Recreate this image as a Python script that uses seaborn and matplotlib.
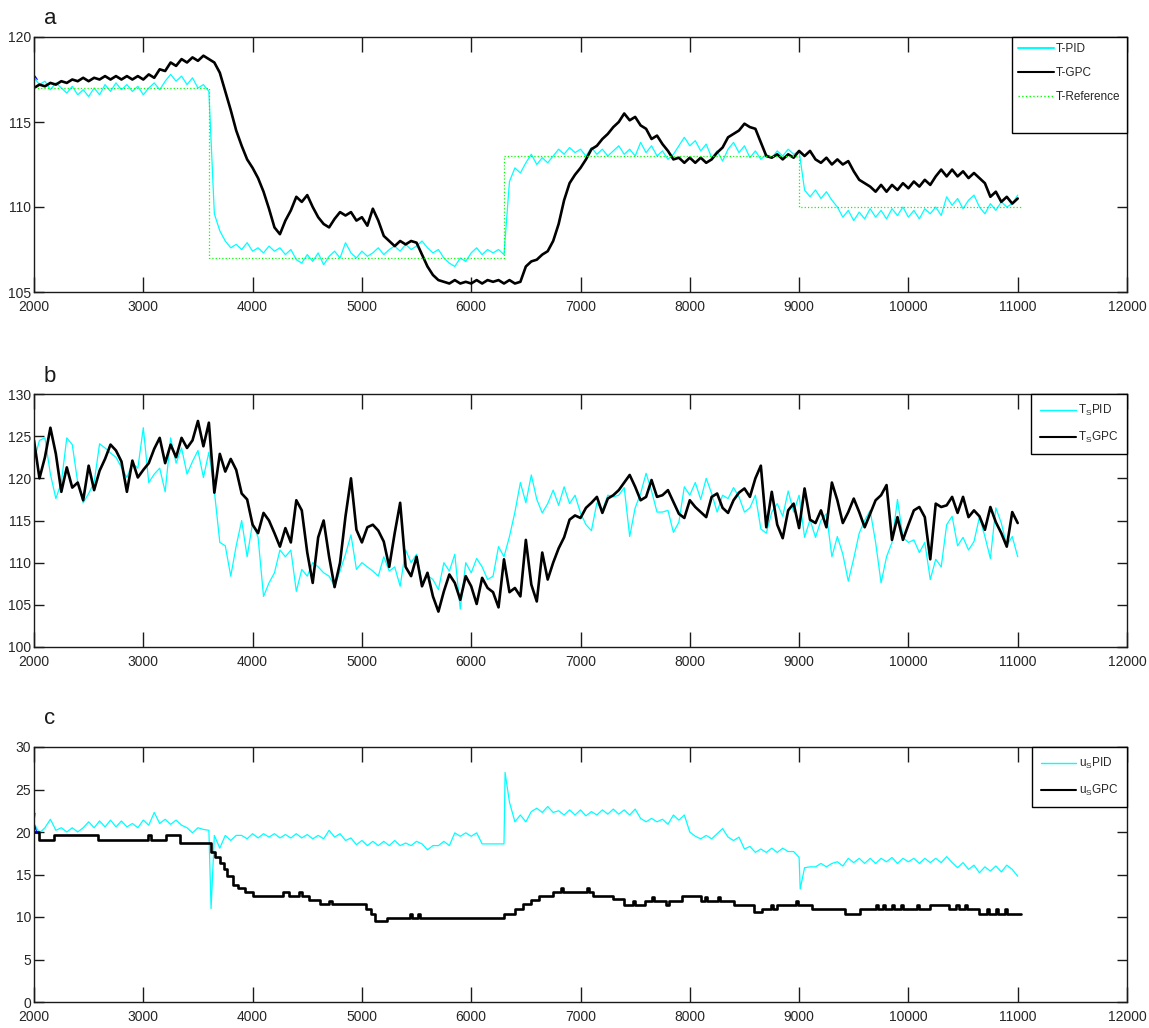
import numpy as np
import pandas as pd
import matplotlib
matplotlib.use("Agg")
import matplotlib.pyplot as plt
from matplotlib.lines import Line2D
import seaborn as sns

# ---------------- data ----------------
t_start = 2000
t_step = 50

# panel a: temperature T
T_PID = [117.6,117.2,117.4,116.9,117.3,117.0,116.7,117.1,116.6,116.9,
         116.5,117.0,116.6,117.2,116.8,117.3,116.9,117.2,116.8,117.1,
         116.6,117.0,117.3,116.9,117.4,117.8,117.4,117.7,117.2,117.6,
         117.0,117.2,116.8,109.6,108.6,108.0,107.6,107.8,107.5,107.9,
         107.4,107.6,107.3,107.7,107.4,107.6,107.2,107.5,106.9,106.7,
         107.2,106.8,107.3,106.6,107.1,107.4,107.0,107.9,107.3,107.0,
         107.4,107.1,107.3,107.6,107.2,107.5,107.7,107.4,107.8,107.5,
         107.7,108.0,107.6,107.3,107.5,107.0,106.7,106.5,107.0,106.8,
         107.3,107.6,107.2,107.5,107.3,107.5,107.2,111.5,112.3,112.0,
         112.6,113.1,112.5,112.9,112.6,113.0,113.4,113.1,113.5,113.2,
         113.4,113.0,113.5,113.1,113.4,113.0,113.3,113.6,113.1,113.4,
         113.0,113.8,113.2,113.6,113.0,113.3,112.8,113.1,113.6,114.1,
         113.6,113.9,113.3,113.7,112.9,113.3,112.7,113.4,113.8,113.2,
         113.6,112.9,113.3,112.8,113.1,112.9,113.3,113.0,113.4,113.1,
         113.3,111.0,110.6,111.0,110.5,110.9,110.4,110.0,109.4,109.8,
         109.2,109.7,109.3,109.9,109.4,109.8,109.3,109.9,109.5,110.0,
         109.4,109.8,109.3,109.9,109.6,110.0,109.5,110.6,110.1,110.5,
         109.9,110.4,110.7,110.0,109.6,110.2,109.8,110.3,110.0,110.2,
         110.7]
T_GPC = [117.0,117.2,117.1,117.3,117.2,117.4,117.3,117.5,117.4,117.6,
         117.4,117.6,117.5,117.7,117.5,117.7,117.5,117.7,117.5,117.7,
         117.5,117.8,117.6,118.1,118.0,118.5,118.3,118.7,118.5,118.8,
         118.6,118.9,118.7,118.5,117.9,116.8,115.7,114.5,113.6,112.8,
         112.3,111.7,110.9,109.9,108.8,108.4,109.2,109.8,110.6,110.3,
         110.7,110.0,109.4,109.0,108.8,109.3,109.7,109.5,109.7,109.2,
         109.4,108.9,109.9,109.2,108.3,108.0,107.7,108.0,107.8,108.0,
         107.9,107.2,106.5,106.0,105.7,105.6,105.5,105.7,105.5,105.6,
         105.5,105.7,105.5,105.7,105.6,105.7,105.5,105.7,105.5,105.6,
         106.5,106.8,106.9,107.2,107.4,108.0,109.0,110.4,111.4,111.9,
         112.3,112.8,113.4,113.6,114.0,114.3,114.7,115.0,115.5,115.1,
         115.3,114.8,114.6,114.0,114.2,113.7,113.3,112.8,112.9,112.6,
         112.9,112.6,112.9,112.6,112.8,113.2,113.5,114.1,114.3,114.5,
         114.9,114.7,114.6,113.8,113.0,112.9,113.1,112.8,113.1,112.9,
         113.3,113.0,113.3,112.8,112.6,112.9,112.5,112.8,112.5,112.7,
         112.1,111.6,111.4,111.2,110.9,111.3,110.9,111.3,111.0,111.4,
         111.1,111.5,111.2,111.6,111.3,111.8,112.2,111.8,112.2,111.8,
         112.1,111.7,112.0,111.7,111.4,110.6,110.9,110.3,110.6,110.2,
         110.5]
ref_t = [2000, 3600, 6300, 9000, 11030]
ref_v = [117, 107, 113, 110, 110]
init_a_t = [2000, 2010, 2030]
init_a_v = [117.3, 117.7, 117.5]

# panel b: T_S
Ts_PID = [122.1,124.5,124.8,120.5,117.6,119.5,124.8,124.0,119.5,117.1,
          118.2,119.5,124.1,123.6,123.0,122.5,121.3,120.1,121.8,121.2,
          126.0,119.5,120.5,121.2,118.4,124.8,121.8,123.6,120.5,122.0,
          123.3,120.1,123.1,118.5,112.4,112.0,108.4,112.0,115.0,110.7,
          114.7,113.0,106.0,107.6,108.8,111.5,110.7,111.5,106.6,109.2,
          108.4,110.0,109.5,108.8,108.4,107.2,109.0,111.0,113.3,109.2,
          110.0,109.5,109.0,108.4,110.7,109.0,109.5,107.2,111.5,110.0,
          111.0,107.6,108.5,108.0,106.8,110.0,109.0,111.0,104.5,110.0,
          108.8,110.5,109.5,108.0,108.4,111.9,110.7,113.1,116.0,119.5,
          117.1,120.4,117.5,115.9,117.0,118.6,116.8,119.0,117.0,118.0,
          115.9,114.5,113.8,117.1,116.2,118.0,117.8,118.0,118.9,113.1,
          116.5,118.2,120.6,118.5,116.0,116.0,116.2,113.6,114.8,119.0,
          118.0,119.5,117.5,120.0,118.2,116.0,118.0,117.6,118.9,117.8,
          116.0,116.5,118.0,114.0,113.5,116.0,117.0,115.5,118.5,116.0,
          118.0,113.0,115.1,113.0,115.0,115.8,110.7,113.1,111.0,107.8,
          110.5,113.5,115.0,116.2,112.4,107.6,110.7,112.4,117.5,113.0,
          112.4,112.7,111.2,112.4,108.0,110.4,109.5,114.5,115.5,112.0,
          113.0,111.5,112.5,115.4,113.1,110.5,116.5,114.7,112.0,113.1,
          110.7]
Ts_GPC = [124.5,120.0,122.5,126.0,122.9,118.4,121.3,118.9,119.5,117.4,
          121.5,118.6,120.9,122.3,124.0,123.3,122.0,118.4,122.1,120.1,
          121.0,121.8,123.5,124.8,121.8,124.0,122.5,124.8,123.6,124.5,
          126.8,123.8,126.6,118.3,122.9,120.8,122.3,121.0,118.2,117.5,
          114.5,113.5,115.9,115.0,113.5,111.9,114.1,112.4,117.4,116.2,
          111.2,107.6,113.0,115.0,110.7,107.1,110.0,115.5,120.0,113.9,
          112.4,114.2,114.5,113.8,112.5,109.5,113.5,117.1,109.5,108.4,
          110.7,107.2,108.8,106.0,104.2,106.6,108.6,107.6,105.6,108.4,
          107.2,105.1,108.2,107.0,106.5,104.7,110.4,106.5,107.0,106.0,
          112.7,107.4,105.4,111.2,108.0,110.0,111.7,113.0,115.1,115.6,
          115.3,116.5,117.1,117.8,115.9,117.6,118.0,118.6,119.5,120.4,
          119.0,117.4,117.8,119.8,117.8,118.0,118.6,117.2,115.8,115.3,
          117.4,116.6,116.0,115.4,117.8,118.2,116.5,115.9,117.4,118.3,
          118.8,117.8,120.0,121.5,114.2,118.4,114.5,112.9,116.2,117.0,
          114.1,118.8,115.1,114.7,116.2,114.2,119.5,117.4,114.7,116.0,
          117.6,116.0,114.2,115.8,117.4,118.0,119.2,112.7,115.4,112.7,
          114.5,116.2,116.6,115.4,110.4,117.0,116.6,116.8,117.8,115.9,
          117.8,115.4,116.2,115.5,113.9,116.6,114.8,113.5,111.9,116.0,
          114.7]

# panel c: u_S
uS_PID = [21.0,19.9,20.5,21.5,20.2,20.5,20.0,20.5,20.0,20.5,
          21.2,20.5,21.3,20.6,21.4,20.6,21.3,20.6,21.0,20.5,
          21.4,20.8,22.3,21.0,21.5,20.9,21.4,20.8,20.5,19.9,
          20.5,20.3,20.2,19.6,18.1,19.6,19.0,19.6,19.6,19.2,
          19.8,19.3,19.8,19.4,19.8,19.3,19.7,19.3,19.8,19.3,
          19.7,19.2,19.6,19.2,20.2,19.4,19.8,19.0,19.3,18.5,
          19.0,18.4,18.9,18.4,18.9,18.4,19.0,18.4,18.7,18.4,
          18.9,18.6,17.9,18.4,18.4,18.9,18.4,19.9,19.5,19.9,
          19.5,19.9,18.6,18.6,18.6,18.6,18.6,23.5,21.2,22.0,
          21.2,22.4,22.8,22.3,23.0,22.3,22.5,22.0,22.6,22.0,
          22.6,21.9,22.4,22.0,22.6,22.1,22.7,22.1,22.6,22.0,
          22.7,21.6,21.2,21.6,21.2,21.5,20.9,22.0,21.4,22.0,
          20.0,19.5,19.2,19.6,19.2,19.8,20.4,19.4,19.0,19.4,
          18.0,18.3,17.6,18.0,17.6,18.1,17.6,18.1,17.7,17.7,
          17.0,15.8,15.9,15.9,16.3,15.9,16.3,16.5,16.0,16.9,
          16.4,16.9,16.3,16.9,16.3,16.9,16.5,17.0,16.3,16.9,
          16.5,16.9,16.3,16.9,16.4,16.9,16.4,17.1,16.4,15.8,
          16.4,15.6,16.1,15.2,15.9,15.4,16.0,15.3,16.1,15.6,
          14.8]
uS_PID_spike_t = [3620, 6310, 9010]
uS_PID_spike_v = [11.0, 27.0, 13.3]

uS_GPC_t = [2000, 2050, 2180, 2590, 3040, 3070, 3210, 3340, 3620, 3660, 3700, 3740,
            3770, 3820, 3870, 3930, 4000, 4280, 4330, 4420, 4450, 4520, 4620, 4700,
            4730, 5040, 5080, 5120, 5230, 5440, 5460, 5510, 5530, 6300, 6400, 6470,
            6550, 6620, 6750, 6820, 6840, 7060, 7080, 7110, 7300, 7400, 7480, 7500,
            7590, 7650, 7670, 7780, 7810, 7930, 8100, 8140, 8160, 8260, 8280, 8400,
            8590, 8660, 8740, 8760, 8800, 8970, 8990, 9120, 9420, 9560, 9700, 9720,
            9770, 9790, 9850, 9870, 9930, 9950, 10080, 10100, 10200, 10370, 10440,
            10460, 10520, 10540, 10650, 10720, 10740, 10800, 10820, 10880, 10900, 11030]
uS_GPC_v = [20.0, 19.1, 19.6, 19.1, 19.6, 19.1, 19.6, 18.7, 17.6, 17.1, 16.4, 15.6,
            14.8, 13.8, 13.4, 12.9, 12.5, 13.0, 12.5, 12.9, 12.5, 12.0, 11.5, 11.9,
            11.5, 11.0, 10.4, 9.5, 9.9, 10.4, 9.9, 10.4, 9.9, 10.4, 10.9, 11.5,
            12.0, 12.5, 13.0, 13.4, 13.0, 13.4, 13.0, 12.5, 12.1, 11.4, 11.9, 11.4,
            11.9, 12.4, 11.9, 11.4, 11.9, 12.5, 11.9, 12.4, 11.9, 12.4, 11.9, 11.4,
            10.6, 10.9, 11.4, 10.9, 11.4, 11.9, 11.4, 10.9, 10.3, 10.9, 11.4, 10.9,
            11.4, 10.9, 11.4, 10.9, 11.4, 10.9, 11.4, 10.9, 11.4, 10.9, 11.4,
            10.9, 11.4, 10.9, 10.4, 10.9, 10.4, 10.9, 10.4, 10.9, 10.4, 10.4]
init_c_red_t = [2010, 2000, 2010]
init_c_red_v = [22.2, 21.2, 20.3]
init_c_blue_t = [2000, 2030]
init_c_blue_v = [21.0, 19.8]

x_ticks = [2000, 3000, 4000, 5000, 6000, 7000, 8000, 9000, 10000, 11000, 12000]
yticks_a = [105, 110, 115, 120]
yticks_b = [100, 105, 110, 115, 120, 125, 130]
yticks_c = [0, 5, 10, 15, 20, 25, 30]

for arr in (T_PID, T_GPC, Ts_PID, Ts_GPC, uS_PID):
    assert len(arr) == 181, len(arr)
assert len(uS_GPC_t) == len(uS_GPC_v)

def grid_t(vals):
    return t_start + t_step * np.arange(len(vals))

# ---------------- style ----------------
sns.set_style("white")
FONTS = ["Liberation Sans Narrow", "Liberation Sans", "DejaVu Sans"]
plt.rcParams["font.family"] = FONTS
plt.rcParams["mathtext.fontset"] = "custom"
plt.rcParams["mathtext.rm"] = "Liberation Sans"
plt.rcParams["mathtext.it"] = "Liberation Sans"
plt.rcParams["axes.linewidth"] = 1.0
plt.rcParams["axes.edgecolor"] = "#1a1a1a"

CYAN = "#00FFFF"
BLACK = "#000000"
GREEN = "#00FF00"

fig = plt.figure(figsize=(11.49, 10.28), dpi=100)
L = 34 / 1149
W = (1127 - 34) / 1149
def rect(top, bottom):
    return [L, (1028 - bottom) / 1028, W, (bottom - top) / 1028]

ax_a = fig.add_axes(rect(37, 292))
ax_b = fig.add_axes(rect(394, 647))
ax_c = fig.add_axes(rect(747, 1002))

def line(ax, t, v, color, lw, **kw):
    sns.lineplot(x=np.asarray(t), y=np.asarray(v), ax=ax, color=color, linewidth=lw,
                 estimator=None, sort=False, legend=False, **kw)

# panel a
line(ax_a, grid_t(T_PID), T_PID, CYAN, 0.9)
line(ax_a, grid_t(T_GPC), T_GPC, BLACK, 1.9)
line(ax_a, ref_t, ref_v, GREEN, 0.9, drawstyle="steps-post", linestyle=":")
line(ax_a, init_a_t, init_a_v, "#0000FF", 0.8)

# panel b
line(ax_b, grid_t(Ts_PID), Ts_PID, CYAN, 0.9)
line(ax_b, grid_t(Ts_GPC), Ts_GPC, BLACK, 1.9)

# panel c
u_t = np.concatenate([grid_t(uS_PID), uS_PID_spike_t])
u_v = np.concatenate([uS_PID, uS_PID_spike_v])
order = np.argsort(u_t, kind="stable")
line(ax_c, u_t[order], u_v[order], CYAN, 0.9)
line(ax_c, uS_GPC_t, uS_GPC_v, BLACK, 1.9, drawstyle="steps-post")
line(ax_c, init_c_red_t, init_c_red_v, "#FF0000", 0.8)
line(ax_c, init_c_blue_t, init_c_blue_v, "#0000FF", 0.8)

for ax, yl, yt in ((ax_a, (105, 120), yticks_a), (ax_b, (100, 130), yticks_b), (ax_c, (0, 30), yticks_c)):
    ax.set_xlim(2000, 12000)
    ax.set_ylim(*yl)
    ax.set_xticks(x_ticks)
    ax.set_yticks(yt)
    ax.set_xlabel("")
    ax.set_ylabel("")
    for s in ax.spines.values():
        s.set_visible(True)
        s.set_color("#1a1a1a")
        s.set_linewidth(1.0)
    ax.tick_params(axis="x", direction="in", length=11, width=1.0, top=True, bottom=True,
                   pad=6, labelsize=10, colors="#1a1a1a", labelcolor="#262626")
    ax.tick_params(axis="y", direction="in", length=7, width=1.0, left=True, right=True,
                   pad=2, labelsize=10, colors="#1a1a1a", labelcolor="#262626")

def make_legend(ax, handles, labels, bp):
    leg = ax.legend(handles, labels, loc="upper right", bbox_to_anchor=(1.0, 1.0),
                    borderaxespad=0.0, frameon=True, fancybox=False, framealpha=1.0,
                    edgecolor="black", fontsize=8.5, handlelength=3.0, handletextpad=0.2,
                    borderpad=bp, labelspacing=1.0)
    leg.get_frame().set_linewidth(1.0)
    return leg

make_legend(ax_a,
            [Line2D([], [], color=CYAN, lw=1.5), Line2D([], [], color=BLACK, lw=1.5),
             Line2D([], [], color=GREEN, lw=1.0, linestyle=":"), Line2D([], [], color="none")],
            ["T-PID", "T-GPC", "T-Reference", " "], 0.55)
make_legend(ax_b,
            [Line2D([], [], color=CYAN, lw=1.0), Line2D([], [], color=BLACK, lw=1.5)],
            [r"T$_\mathregular{S}$PID", r"T$_\mathregular{S}$GPC"], 0.75)
make_legend(ax_c,
            [Line2D([], [], color=CYAN, lw=1.0), Line2D([], [], color=BLACK, lw=1.5)],
            [r"u$_\mathregular{S}$PID", r"u$_\mathregular{S}$GPC"], 0.75)

for lab, ybase in (("a", 24), ("b", 382), ("c", 724)):
    fig.text(44 / 1149, 1 - ybase / 1028, lab, fontsize=16, color="#1a1a1a",
             family=["Liberation Sans", "DejaVu Sans"], va="baseline", ha="left")

fig.savefig("out.png", dpi=100)
